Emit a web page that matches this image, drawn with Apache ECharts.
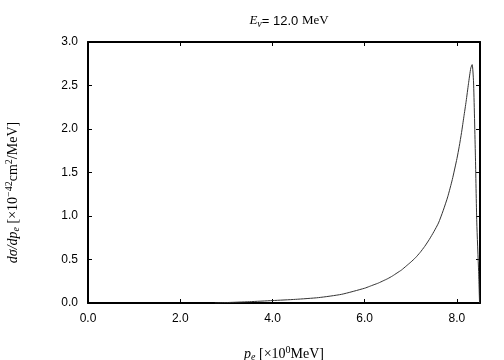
<!DOCTYPE html>
<html>
<head>
<meta charset="utf-8">
<script src="https://cdn.jsdelivr.net/npm/echarts@6/dist/echarts.min.js"></script>
<style>
html,body{margin:0;padding:0;background:#fff}
#chart_1{width:504px;height:360px}
</style>
</head>
<body>
<div id="chart_1"></div>
<script>
// 读图得到的数据 (p_e, dσ/dp_e)
var pe = [2.75, 3.0, 3.5, 4.0, 4.5, 5.0, 5.5, 6.0, 6.1, 6.2, 6.3, 6.4, 6.5, 6.6, 6.7, 6.8, 6.9, 7.0, 7.1, 7.2, 7.3, 7.4, 7.5, 7.6, 7.7, 7.8, 7.9, 8.0, 8.05, 8.1, 8.15, 8.2, 8.25, 8.3, 8.33, 8.36, 8.40, 8.43, 8.47, 8.49]
var dsig = [0.0, 0.005, 0.015, 0.028, 0.042, 0.062, 0.10, 0.17, 0.19, 0.21, 0.23, 0.255, 0.28, 0.31, 0.345, 0.38, 0.425, 0.47, 0.52, 0.58, 0.65, 0.73, 0.82, 0.92, 1.06, 1.22, 1.42, 1.66, 1.80, 1.96, 2.14, 2.32, 2.52, 2.70, 2.74, 2.54, 1.70, 0.93, 0.36, 0.0]
var xTicks = [0, 2, 4, 6, 8]
var yTicks = [0, 0.5, 1.0, 1.5, 2.0, 2.5, 3.0]

var char1 = echarts.init(document.getElementById('chart_1'))
var pts = []
for (var i = 0; i < pe.length; i++) {
    pts.push([pe[i], dsig[i]])
}

var sans = 'Liberation Sans'
var serif = 'Liberation Serif'
var axisBase = {
    type: 'value',
    axisLine: {show: true, onZero: false, lineStyle: {color: '#000', width: 2}},
    axisTick: {show: true, inside: true, length: 4, lineStyle: {color: '#000', width: 1}},
    splitLine: {show: false}
}
var richLabel = {
    i: {fontFamily: serif, fontStyle: 'italic', fontSize: 14, color: '#000'},
    sub: {fontFamily: serif, fontStyle: 'italic', fontSize: 10, color: '#000', padding: [6, 0, 0, 0]},
    sup: {fontFamily: serif, fontSize: 10, color: '#000', padding: [0, 0, 8, 0]},
    t: {fontFamily: serif, fontSize: 14, color: '#000'}
}

var option1 = {
    animation: false,
    title: {
        text: '{e|E}{sub|ν}{n|= 12.0 }{s|MeV}',
        left: 284,
        textAlign: 'center',
        top: 8,
        textStyle: {
            fontWeight: 'normal',
            rich: {
                e: {fontFamily: serif, fontStyle: 'italic', fontWeight: 'normal', fontSize: 13, color: '#000'},
                sub: {fontFamily: serif, fontStyle: 'italic', fontWeight: 'normal', fontSize: 10, color: '#000', padding: [6, 0, 0, 0]},
                n: {fontFamily: sans, fontWeight: 'normal', fontSize: 13, color: '#000'},
                s: {fontFamily: serif, fontWeight: 'normal', fontSize: 13, color: '#000'}
            }
        }
    },
    grid: {left: 88, right: 24, top: 42, bottom: 57, outerBoundsMode: 'none', containLabel: false},
    xAxis: [
        Object.assign({}, axisBase, {
            position: 'bottom',
            min: 0, max: 8.5, interval: 2,
            axisLabel: {
                color: '#000', fontFamily: sans, fontSize: 12, margin: 10,
                showMaxLabel: false,
                formatter: function (v) { return xTicks.indexOf(v) >= 0 ? v.toFixed(1) : '' }
            },
            name: '{i|p}{sub|e}{t| [×10}{sup|0}{t|MeV]}',
            nameLocation: 'middle',
            nameGap: 42,
            nameTextStyle: {rich: richLabel}
        }),
        Object.assign({}, axisBase, {
            position: 'top',
            min: 0, max: 8.5, interval: 2,
            axisLabel: {show: false}
        })
    ],
    yAxis: [
        Object.assign({}, axisBase, {
            position: 'left',
            min: 0, max: 3, interval: 0.5,
            axisLabel: {
                color: '#000', fontFamily: sans, fontSize: 12, margin: 10,
                formatter: function (v) { return yTicks.indexOf(v) >= 0 ? v.toFixed(1) : '' }
            },
            name: '{i|dσ/dp}{sub|e}{t| [×10}{sup|−42}{t|cm}{sup|2}{t|/MeV]}',
            nameLocation: 'middle',
            nameRotate: 90,
            nameGap: 66,
            nameTextStyle: {padding: [0, 40, 0, 0], rich: richLabel}
        }),
        Object.assign({}, axisBase, {
            position: 'right',
            min: 0, max: 3, interval: 0.5,
            axisLabel: {show: false}
        })
    ],
    series: [
        {
            type: 'line',
            data: pts,
            showSymbol: false,
            smooth: 0.2,
            lineStyle: {color: '#333', width: 1},
            clip: true
        }
    ]
}
char1.setOption(option1)
</script>
</body>
</html>
